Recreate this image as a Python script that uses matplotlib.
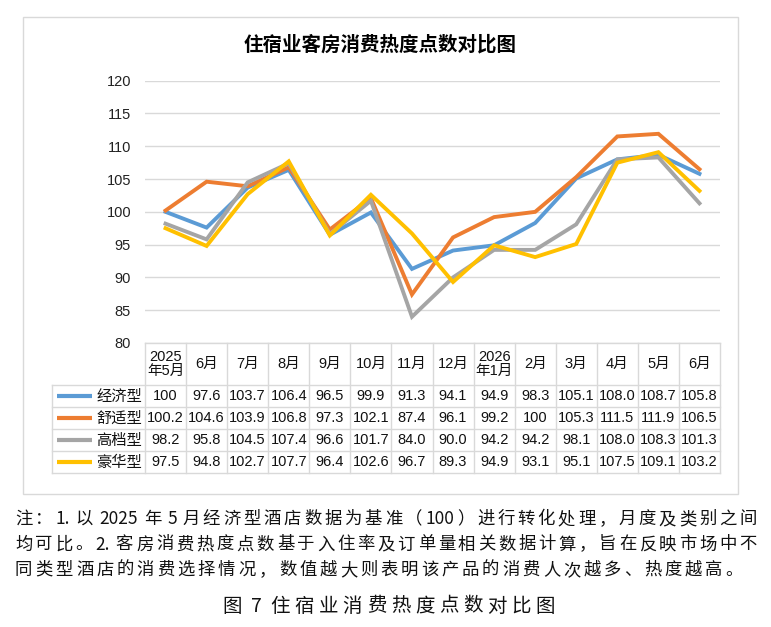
import re
import numpy as np
import matplotlib.pyplot as plt
from matplotlib.patches import Rectangle

plt.rcParams['font.family'] = ['Liberation Sans', 'Noto Sans CJK SC', 'DejaVu Sans']

# 数据
months = ['2025\n年5月', '6月', '7月', '8月', '9月', '10月', '11月', '12月',
          '2026\n年1月', '2月', '3月', '4月', '5月', '6月']
series_names = ['经济型', '舒适型', '高档型', '豪华型']
economy = [100, 97.6, 103.7, 106.4, 96.5, 99.9, 91.3, 94.1, 94.9, 98.3, 105.1, 108.0, 108.7, 105.8]
comfort = [100.2, 104.6, 103.9, 106.8, 97.3, 102.1, 87.4, 96.1, 99.2, 100, 105.3, 111.5, 111.9, 106.5]
upscale = [98.2, 95.8, 104.5, 107.4, 96.6, 101.7, 84.0, 90.0, 94.2, 94.2, 98.1, 108.0, 108.3, 101.3]
luxury = [97.5, 94.8, 102.7, 107.7, 96.4, 102.6, 96.7, 89.3, 94.9, 93.1, 95.1, 107.5, 109.1, 103.2]
colors = ['#5B9BD5', '#ED7D31', '#A5A5A5', '#FFC000']
all_series = [economy, comfort, upscale, luxury]

W, H = 771, 627
fig = plt.figure(figsize=(W / 100, H / 100), dpi=100)

def px_axes(l, t, r, b):
    return fig.add_axes([l / W, 1 - b / H, (r - l) / W, (b - t) / H])

# 背景叠加层（像素坐标）
ov = fig.add_axes([0, 0, 1, 1])
ov.set_xlim(0, W)
ov.set_ylim(H, 0)
ov.axis('off')
ov.add_patch(Rectangle((23, 17), 715, 477, fill=False, ec='#D9D9D9', lw=1))

# 折线图
x0, x1 = 145, 720
ax = px_axes(x0, 80.7, x1, 343)
n = len(months)
xs = np.arange(n) + 0.5
for vals, c in zip(all_series, colors):
    ax.plot(xs, vals, color=c, lw=2.8, solid_joinstyle='miter', zorder=3)
ax.set_xlim(0, n)
ax.set_ylim(80, 120)
ax.set_yticks(np.arange(80, 121, 5))
ax.yaxis.grid(True, color='#D9D9D9', lw=1)
ax.set_xticks([])
for s in ax.spines.values():
    s.set_visible(False)
ax.tick_params(axis='y', length=0, pad=10, labelsize=10.5, labelcolor='#222222')
ax.patch.set_alpha(0)

ov.text(380, 45, '住宿业客房消费热度点数对比图', ha='center', va='center',
        fontsize=14, fontweight='bold', family=['Noto Sans CJK SC'])

# 数据表
cw = (x1 - x0) / n
top, hdr_b = 343, 385
rh = 22
tab_l = 52
line_c = '#D9D9D9'
rows_bottom = hdr_b + rh * len(series_names)
ov.plot([x0, x1], [top, top], color=line_c, lw=1)
for k in range(len(series_names) + 1):
    y = hdr_b + k * rh
    ov.plot([tab_l, x1], [y, y], color=line_c, lw=1)
for i in range(n + 1):
    ov.plot([x0 + i * cw] * 2, [top, rows_bottom], color=line_c, lw=1)
ov.plot([tab_l, tab_l], [hdr_b, rows_bottom], color=line_c, lw=1)

for i, m in enumerate(months):
    ov.text(x0 + (i + 0.5) * cw, (top + hdr_b) / 2, m, ha='center', va='center',
            fontsize=10.5, linespacing=1.05, color='#111111')

for k, (name, vals, c) in enumerate(zip(series_names, all_series, colors)):
    yc = hdr_b + (k + 0.5) * rh
    ov.plot([57, 92], [yc, yc], color=c, lw=3, solid_capstyle='butt')
    ov.text(142, yc, name, ha='right', va='center', fontsize=11,
            family=['Noto Sans CJK SC'], color='#111111')
    for i, v in enumerate(vals):
        txt = '100' if v == 100 else f'{v:.1f}'
        ov.text(x0 + (i + 0.5) * cw, yc, txt, ha='center', va='center',
                fontsize=10.5, color='#111111')

# 注释（两端对齐，数字串不拆开，空格固定宽度）
renderer = fig.canvas.get_renderer()

def justify(s, xl, xr, y, size, sp=6):
    tokens = re.findall(r'[0-9A-Za-z.]+|.', s)
    objs, ws = [], []
    for tk in tokens:
        if tk == ' ':
            objs.append(None)
            ws.append(sp)
        else:
            o = ov.text(0, y, tk, ha='left', va='center', fontsize=size,
                        family=['Noto Sans CJK SC', 'DejaVu Sans'], color='#111111')
            objs.append(o)
            ws.append(o.get_window_extent(renderer).width)
    # 只在两个非空格记号之间加字距
    ngaps = sum(1 for a, b in zip(tokens, tokens[1:]) if a != ' ' and b != ' ')
    gap = (xr - xl - sum(ws)) / ngaps
    x = xl
    for idx, (o, w) in enumerate(zip(objs, ws)):
        if o is not None:
            o.set_x(x)
        x += w
        if idx + 1 < len(tokens) and tokens[idx] != ' ' and tokens[idx + 1] != ' ':
            x += gap

notes = ['注：1. 以 2025 年 5 月经济型酒店数据为基准（100）进行转化处理，月度及类别之间',
         '均可比。2. 客房消费热度点数基于入住率及订单量相关数据计算，旨在反映市场中不',
         '同类型酒店的消费选择情况，数值越大则表明该产品的消费人次越多、热度越高。']
ends = [757, 757, 743]
for j, line in enumerate(notes):
    justify(line, 15, ends[j], 519 + j * 25.5, 12.5)

justify('图 7 住宿业消费热度点数对比图', 222, 555, 606, 14, sp=9)

fig.savefig('out.png', dpi=100)
